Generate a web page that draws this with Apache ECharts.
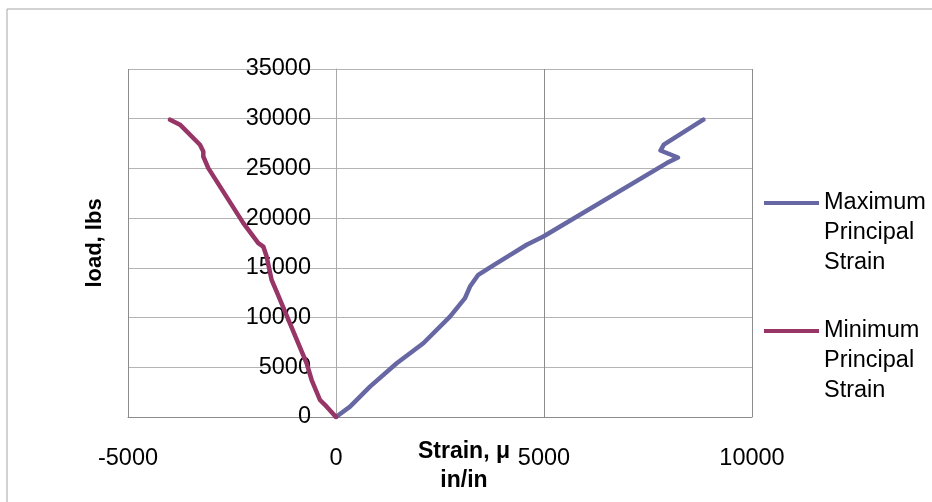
<!DOCTYPE html>
<html>
<head>
<meta charset="utf-8">
<script src="https://cdn.jsdelivr.net/npm/echarts@6/dist/echarts.min.js"></script>
<style>
html,body{margin:0;padding:0;background:#fff;}
#chart{width:932px;height:502px;}
</style>
</head>
<body>
<div id="chart"></div>
<script>
// ---- data ----
const xTicks = [-5000, 0, 5000, 10000];
const yTicks = [0, 5000, 10000, 15000, 20000, 25000, 30000, 35000];

const seriesNames = ["Maximum\nPrincipal\nStrain", "Minimum\nPrincipal\nStrain"];

const maxStrain = [0, 337, 817, 1459, 2099, 2740, 3101, 3221, 3420, 3800, 4190, 4585, 4985, 7950, 8220, 7800, 7880, 8830];
const maxLoad   = [0, 1040, 3050, 5400, 7420, 10100, 11950, 13120, 14300, 15300, 16310, 17320, 18150, 25540, 26100, 26800, 27400, 29900];

const minStrain = [0, -224, -385, -585, -705, -1427, -1548, -1668, -1748, -1868, -2228, -3070, -3190, -3190, -3270, -3750, -3990];
const minLoad   = [0, 1040, 1710, 3720, 5400, 12610, 13790, 16140, 17140, 17490, 19500, 25030, 26200, 26710, 27380, 29400, 29900];

const colors = ["#6768a3", "#973566"];

function pairs(xs, ys) { return xs.map((x, i) => [x, ys[i]]); }

const chart = echarts.init(document.getElementById('chart'), null, {renderer: 'canvas'});
const FONT = "Liberation Sans";
const plain = v => String(v);

// grid geometry
const GRID_LEFT = 128, GRID_WIDTH = 624;
// y axis crosses the x axis at strain 0 (Excel style): shift it from the left edge
const yAxisShift = -GRID_WIDTH * (0 - xTicks[0]) / (xTicks[xTicks.length - 1] - xTicks[0]);

const option = {
  backgroundColor: '#ffffff',
  animation: false,
  graphic: [{
    type: 'rect',
    shape: {x: 7, y: 9, width: 1000, height: 1000},
    style: {fill: 'none', stroke: '#a6a6a6', lineWidth: 1},
    silent: true
  }],
  grid: {left: GRID_LEFT, top: 69, width: GRID_WIDTH, height: 348, containLabel: false, outerBoundsMode: 'none'},
  xAxis: {
    type: 'value',
    min: xTicks[0], max: xTicks[xTicks.length - 1], interval: 5000,
    axisLine: {show: true, onZero: false, lineStyle: {color: '#8c8c8c', width: 1}},
    axisTick: {show: false},
    splitLine: {show: true, lineStyle: {color: '#8c8c8c', width: 1}},
    axisLabel: {color: '#000', fontFamily: FONT, fontSize: 23.5, margin: 30, formatter: plain},
    name: 'Strain, μ\nin/in',
    nameLocation: 'middle',
    nameGap: 20,
    nameMoveOverlap: false,
    nameTextStyle: {color: '#000', fontFamily: FONT, fontSize: 23, fontWeight: 'bold', lineHeight: 29, padding: [0, 0, 0, 48]}
  },
  yAxis: {
    type: 'value',
    position: 'left',
    offset: yAxisShift,
    min: yTicks[0], max: yTicks[yTicks.length - 1], interval: 5000,
    axisLine: {show: true, onZero: false, lineStyle: {color: '#a8a8a8', width: 1}},
    axisTick: {show: false},
    splitLine: {show: true, lineStyle: {color: '#b4b4b4', width: 1}},
    axisLabel: {color: '#000', fontFamily: FONT, fontSize: 23.5, margin: 25, formatter: plain},
    name: 'load, lbs',
    nameLocation: 'middle',
    nameGap: 230,
    nameMoveOverlap: false,
    nameTextStyle: {color: '#000', fontFamily: FONT, fontSize: 22, fontWeight: 'bold'}
  },
  legend: [0, 1].map(i => ({
    data: [seriesNames[i]],
    orient: 'vertical',
    left: 764,
    top: i === 0 ? 128 : 256,
    padding: 0,
    itemWidth: 55,
    itemHeight: 4,
    icon: 'rect',
    formatter: name => '\n\n' + name,
    textStyle: {color: '#000', fontFamily: FONT, fontSize: 23.5, lineHeight: 30}
  })),
  series: [
    {
      name: seriesNames[0], type: 'line', data: pairs(maxStrain, maxLoad),
      symbol: 'none', smooth: false,
      lineStyle: {color: colors[0], width: 4.5, cap: 'round', join: 'round'},
      itemStyle: {color: colors[0]}
    },
    {
      name: seriesNames[1], type: 'line', data: pairs(minStrain, minLoad),
      symbol: 'none', smooth: false,
      lineStyle: {color: colors[1], width: 4.5, cap: 'round', join: 'round'},
      itemStyle: {color: colors[1]}
    }
  ]
};
chart.setOption(option);
</script>
</body>
</html>
